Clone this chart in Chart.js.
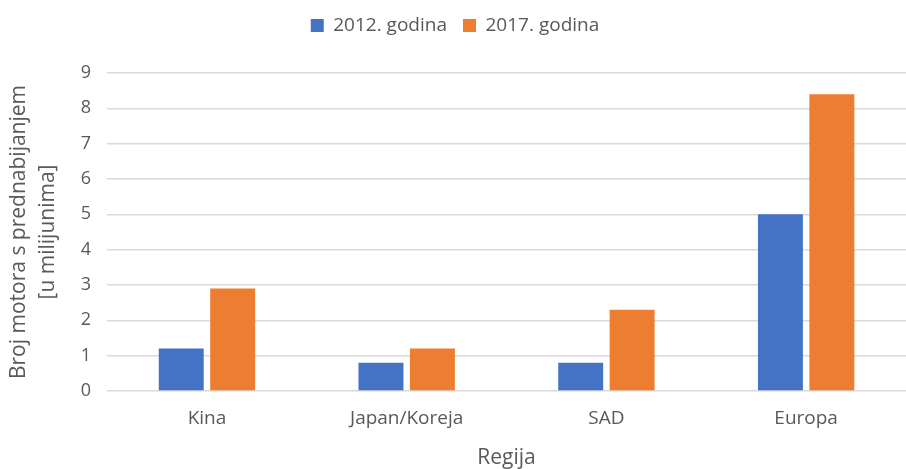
<!DOCTYPE html>
<html>
<head>
<meta charset="utf-8">
<script src="https://cdn.jsdelivr.net/npm/chart.js@4"></script>
<style>
  html, body { margin: 0; padding: 0; background: #fff; }
  #wrap { width: 906px; height: 469px; }
</style>
</head>
<body>
<div id="wrap"><canvas id="grafica"></canvas></div>
<script>
var regije = ['Kina', 'Japan/Koreja', 'SAD', 'Europa'];
var godina2012 = [1.2, 0.8, 0.8, 5.0];
var godina2017 = [2.9, 1.2, 2.3, 8.4];

Chart.defaults.font.family = "'Open Sans', 'Noto Sans', sans-serif";
Chart.defaults.color = '#595959';

// extra space under the legend
var legendSpacer = {
  id: 'legendSpacer',
  beforeInit: function (chart) {
    var fitOrig = chart.legend.fit;
    chart.legend.fit = function () {
      fitOrig.bind(chart.legend)();
      this.height += 28;
    };
  }
};

new Chart(document.getElementById('grafica'), {
  type: 'bar',
  data: {
    labels: regije,
    datasets: [
      {
        label: '2012. godina',
        data: godina2012,
        backgroundColor: '#4472C4',
        categoryPercentage: 0.515,
        barPercentage: 0.874
      },
      {
        label: '2017. godina',
        data: godina2017,
        backgroundColor: '#ED7D31',
        categoryPercentage: 0.515,
        barPercentage: 0.874
      }
    ]
  },
  plugins: [legendSpacer],
  options: {
    responsive: true,
    maintainAspectRatio: false,
    animation: false,
    layout: { padding: { left: 4, right: 0, top: 0, bottom: 0 } },
    plugins: {
      legend: {
        display: true,
        position: 'top',
        labels: {
          boxWidth: 13,
          boxHeight: 13,
          padding: 16,
          font: { size: 19 }
        }
      },
      tooltip: { enabled: false }
    },
    scales: {
      x: {
        grid: { display: false },
        border: { display: false },
        ticks: { font: { size: 19, lineHeight: 1.0 }, padding: 10 },
        title: { display: true, text: 'Regija', font: { size: 21, lineHeight: 1.0 }, padding: { top: 10, bottom: 0 } }
      },
      y: {
        min: 0,
        max: 9,
        ticks: { stepSize: 1, font: { size: 18 }, padding: 16 },
        grid: { color: '#d9d9d9', lineWidth: 1.5, drawTicks: false },
        border: { display: false },
        title: {
          display: true,
          text: ['Broj motora s prednabijanjem', '[u milijunima]'],
          font: { size: 21, lineHeight: 1.4 },
          padding: { top: 0, bottom: 2 }
        }
      }
    }
  }
});
</script>
</body>
</html>
